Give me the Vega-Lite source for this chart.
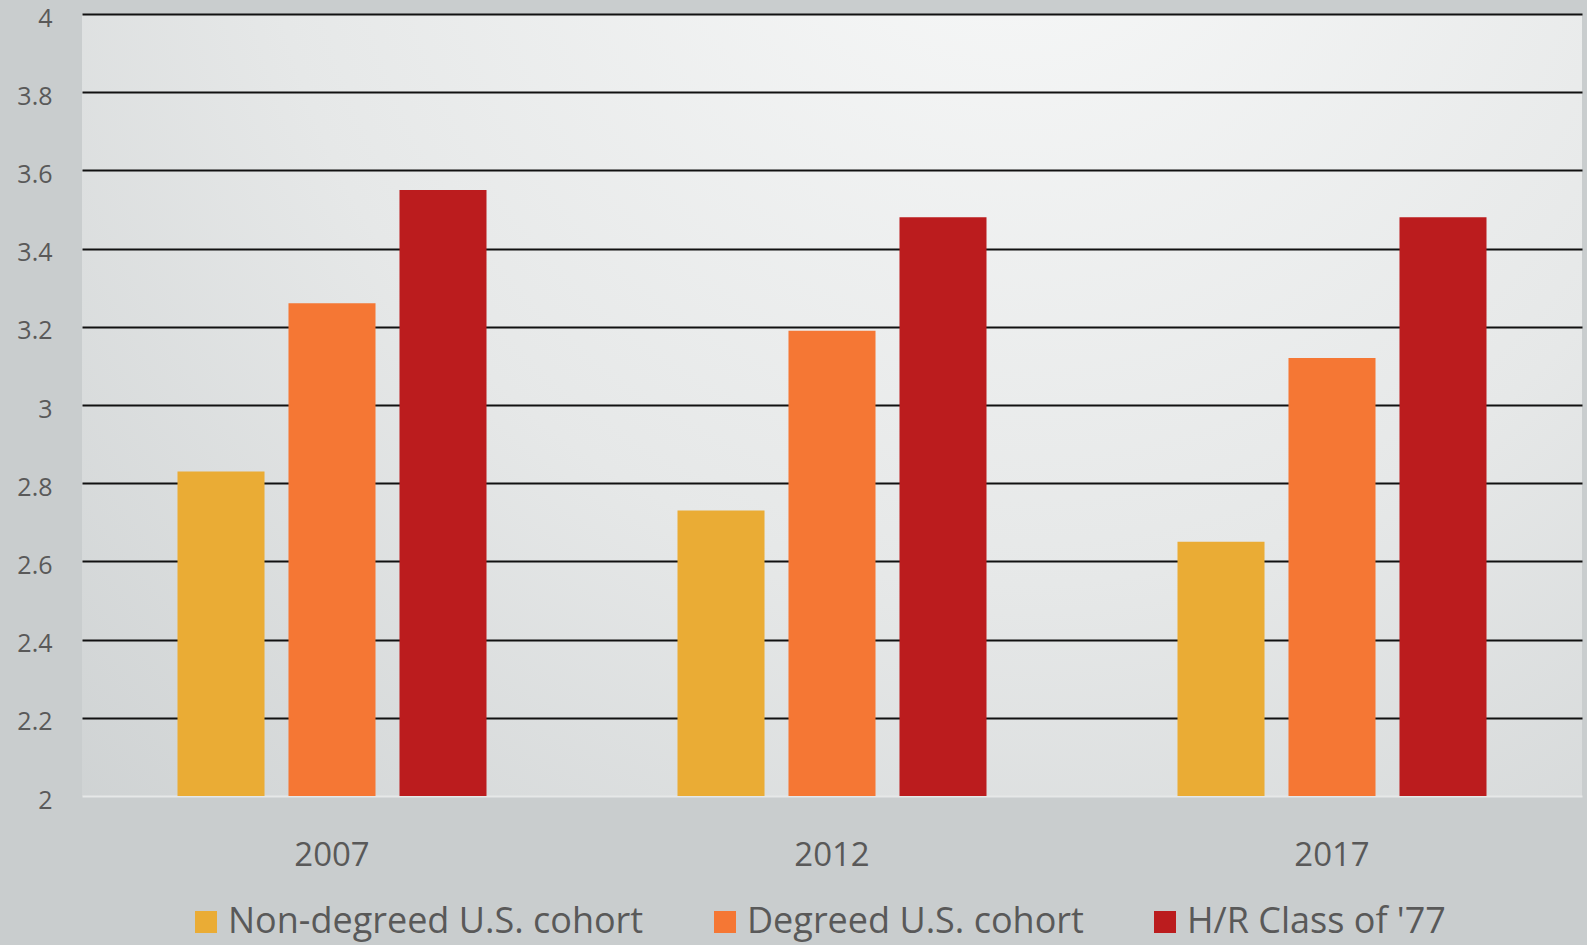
{
  "$schema": "https://vega.github.io/schema/vega-lite/v6.json",
  "width": 1500,
  "height": 782,
  "autosize": {"type": "none"},
  "padding": {"left": 82, "top": 14, "right": 5, "bottom": 149},
  "background": "#c9cdce",
  "config": {
    "view": {
      "stroke": null,
      "fill": {
        "gradient": "radial",
        "x1": 0.62, "y1": 0.12, "r1": 0,
        "x2": 0.62, "y2": 0.12, "r2": 1.0,
        "stops": [
          {"offset": 0, "color": "#f8f9f9"},
          {"offset": 0.5, "color": "#e6e8e8"},
          {"offset": 1, "color": "#c9cdce"}
        ]
      }
    },
    "font": "Open Sans"
  },
  "data": {
    "values": [
      {"year": "2007", "series": "Non-degreed U.S. cohort", "value": 2.83},
      {"year": "2007", "series": "Degreed U.S. cohort", "value": 3.26},
      {"year": "2007", "series": "H/R Class of '77", "value": 3.55},
      {"year": "2012", "series": "Non-degreed U.S. cohort", "value": 2.73},
      {"year": "2012", "series": "Degreed U.S. cohort", "value": 3.19},
      {"year": "2012", "series": "H/R Class of '77", "value": 3.48},
      {"year": "2017", "series": "Non-degreed U.S. cohort", "value": 2.65},
      {"year": "2017", "series": "Degreed U.S. cohort", "value": 3.12},
      {"year": "2017", "series": "H/R Class of '77", "value": 3.48}
    ]
  },
  "mark": {"type": "bar"},
  "encoding": {
    "x": {
      "field": "year",
      "type": "nominal",
      "scale": {"paddingInner": 0.382, "paddingOuter": 0.191},
      "axis": {
        "title": null,
        "labelAngle": 0,
        "domain": false,
        "ticks": false,
        "labelFont": "Open Sans",
        "labelFontSize": 33,
        "labelColor": "#595959",
        "labelBaseline": "top",
        "labelPadding": 43
      }
    },
    "xOffset": {
      "field": "series",
      "type": "nominal",
      "sort": ["Non-degreed U.S. cohort", "Degreed U.S. cohort", "H/R Class of '77"],
      "scale": {"paddingInner": 0.216, "paddingOuter": 0}
    },
    "y": {
      "field": "value",
      "type": "quantitative",
      "scale": {"domain": [2, 4], "zero": false, "nice": false},
      "axis": {
        "title": null,
        "values": [2, 2.2, 2.4, 2.6, 2.8, 3, 3.2, 3.4, 3.6, 3.8, 4],
        "format": "~g",
        "domain": false,
        "ticks": false,
        "labelFont": "Open Sans",
        "labelFontSize": 25,
        "labelColor": "#595959",
        "labelPadding": 30,
        "labelOffset": 4,
        "grid": true,
        "gridWidth": 2,
        "gridColor": {"condition": {"test": "datum.value === 2", "value": "#e6e8e8"}, "value": "#111111"}
      }
    },
    "y2": {"datum": 2},
    "color": {
      "field": "series",
      "type": "nominal",
      "sort": ["Non-degreed U.S. cohort", "Degreed U.S. cohort", "H/R Class of '77"],
      "scale": {
        "domain": ["Non-degreed U.S. cohort", "Degreed U.S. cohort", "H/R Class of '77"],
        "range": ["#EAAC35", "#F57734", "#BB1C1E"]
      },
      "legend": {
        "title": null,
        "orient": "none",
        "direction": "horizontal",
        "legendX": 106,
        "legendY": 890,
        "padding": 0,
        "symbolType": "square",
        "symbolSize": 484,
        "symbolStrokeWidth": 0,
        "symbolOpacity": 1,
        "labelFont": "Open Sans",
        "labelFontSize": 36,
        "labelColor": "#595959",
        "labelOffset": 4,
        "labelLimit": 600,
        "columnPadding": 63
      }
    }
  }
}
